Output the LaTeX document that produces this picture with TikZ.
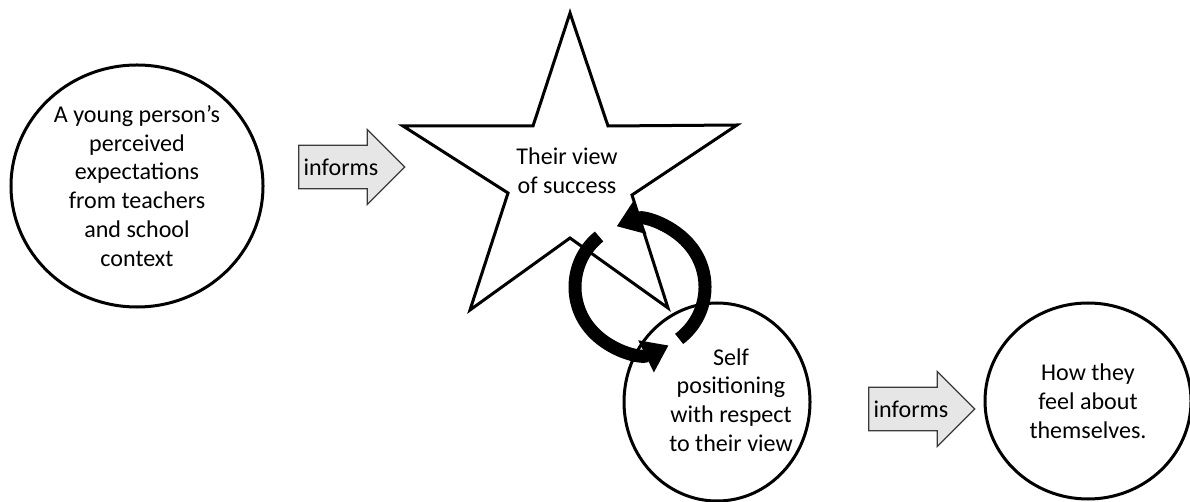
\documentclass[tikz,border=0pt]{standalone}
\usepackage{fontspec}
\setmainfont{Carlito}
\usepackage{tikz}
\usetikzlibrary{arrows.meta,shapes.geometric,shapes.arrows}
\definecolor{Ink}{HTML}{000000}
\definecolor{Shade}{HTML}{E6E6E6}
\definecolor{Rim}{HTML}{3A3A3A}
\tikzset{
  >=Latex,
  txt/.style={align=center,font=\fontsize{13.7}{16.4}\selectfont,text=Ink},
  bubble/.style={ellipse,draw=Ink,line width=.6mm,fill=white,inner sep=0pt},
  informs/.style={single arrow,draw=Rim,line width=.25mm,fill=Shade,single arrow head extend=3mm,
    single arrow tip angle=90,minimum height=21.2mm,minimum width=15mm,inner xsep=0pt,inner ysep=2.3mm,txt},
  starline/.style={draw=Ink,line width=.6mm,fill=white,line join=miter},
  cycarrow/.style={line width=2.6mm,draw=Ink,-{Triangle[width=6.8mm,length=5mm]}}
}
\begin{document}
\begin{tikzpicture}[x=.2mm,y=.2mm]
        \useasboundingbox (0,0) rectangle (1190,-502);
        % the star
        \draw[starline] (570,-13)--(608,-126)--(737,-125)--(632,-195)--(668,-308)--(570,-238)
          --(470,-310)--(508,-193)--(403,-126)--(533,-126)--cycle;
        \node[txt] (view) at (567,-171) {Their view\\of success};
        \node[bubble,minimum width=50.4mm,minimum height=48.4mm,txt] (young) at (137,-186)
          {A young person's\\perceived\\expectations\\from teachers\\and school\\context};
        \node[informs] (inf1) at (341,-167) {informs};
        \node[bubble,minimum width=37.2mm,minimum height=39.6mm] (self) at (717,-402) {};
        \node[txt] (selftext) at (731,-400) {Self\\positioning\\with respect\\to their view};
        \node[informs] (inf2) at (911,-409) {informs};
        \node[bubble,minimum width=41.2mm,minimum height=39.2mm,txt] (feel) at (1088,-401)
          {How they\\feel about\\themselves.};
        % the cycle
        \coordinate (cyc) at (640,-287);
        \draw[cycarrow] ([shift={(129:65)}]cyc) arc[start angle=129,end angle=296,radius=65];
        \draw[cycarrow] ([shift={(307:65)}]cyc) arc[start angle=307,end angle=471,radius=65];
      \end{tikzpicture}
\end{document}
